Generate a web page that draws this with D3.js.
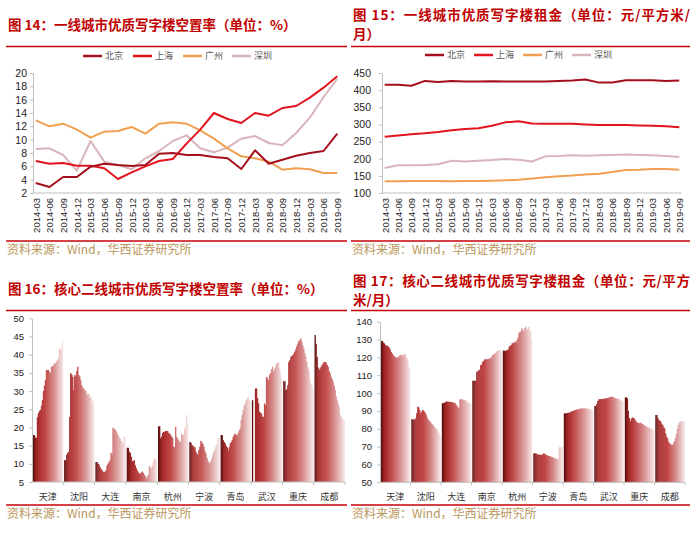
<!DOCTYPE html>
<html>
<head>
<meta charset="utf-8">
<script src="https://cdn.jsdelivr.net/npm/d3@7"></script>
<style>
	body{margin:0;background:#fff;}
	svg{display:block;font-family:"Liberation Sans",Arial,sans-serif;}
	.title{font-family:"Noto Sans CJK SC";font-weight:bold;fill:#c00000;font-size:13.5px;}
	.src{font-family:"Noto Sans CJK SC";fill:#b9975b;font-size:12px;}
	.legend text{font-family:"Noto Sans CJK SC";fill:#595959;font-size:9px;}
	.city{font-family:"Noto Sans CJK SC";fill:#333;font-size:9px;}
	.axis path,.axis line{stroke:#bfbfbf;}
	.axis text{fill:#222;}
</style>
</head>
<body>
<svg id="chart" width="700" height="535"></svg>
<script>

// ---- top charts: tier-1 cities, quarterly
var quarters = ["2014-03","2014-06","2014-09","2014-12","2015-03","2015-06","2015-09","2015-12",
	"2016-03","2016-06","2016-09","2016-12","2017-03","2017-06","2017-09","2017-12",
	"2018-03","2018-06","2018-09","2018-12","2019-03","2019-06","2019-09"];
var tier1 = ["北京","上海","广州","深圳"];
var tier1Colors = ["#a50f1c","#e3141d","#f0a050","#d9b5ba"];

// vacancy, %
var vacBJ = [3.5,2.9,4.4,4.4,5.95,6.4,6.2,6.05,6.2,7.9,8.0,7.7,7.7,7.4,7.2,5.6,8.4,6.4,7.0,7.6,8.0,8.3,10.9];
var vacSH = [6.8,6.4,6.5,6.1,6.1,5.7,4.1,5.1,6.0,6.8,7.1,9.4,11.5,14.0,13.1,12.5,14.0,13.6,14.75,15.05,16.3,17.8,19.5];
var vacGZ = [12.9,12.0,12.4,11.5,10.3,11.2,11.3,11.9,10.9,12.4,12.6,12.4,11.4,10.15,8.7,7.5,7.2,6.7,5.5,5.7,5.55,5.0,5.0];
var vacSZ = [8.6,8.7,7.7,5.35,9.8,6.7,6.2,5.55,7.2,8.3,9.8,10.65,8.7,8.1,8.8,10.15,10.55,9.5,9.15,11.0,13.3,16.4,19.1];
var vacTicks = [2,4,6,8,10,12,14,16,18,20];

// rent, yuan / m2 / month
var rentBJ = [416,416,413,427,424,427,425,425,426,425,425,425,425,427,428,431,422,422,429,429,429,427,428];
var rentSH = [264,268,271,274,278,283,287,289,296,306,309,303,302,302,302,300,298,298,298,297,296,295,292];
var rentGZ = [134,134,135,135,135,134,135,135,136,137,139,142,146,149,151,154,156,161,167,168,170,170,168];
var rentSZ = [173,181,181,182,184,194,192,194,196,199,197,192,207,208,210,209,210,211,212,211,210,208,205];
var rentTicks = [100,150,200,250,300,350,400,450];

// ---- bottom charts: core tier-2 cities, 30 readings each
var tier2 = ["天津","沈阳","大连","南京","杭州","宁波","青岛","武汉","重庆","成都"];

var vacTJ = [17.9,17.9,17.2,17.2,22.8,23.9,24.5,24.8,26,27.5,30,31.5,33,35.8,35.8,35.8,35.3,34.9,36.7,36.8,37.1,37.6,37.6,38.1,38.5,39,41.7,41.3,41.5,44];
var vacSY = [11,11,12.5,13,13.3,22.9,34.9,34.5,33.9,30.3,34.4,34,35.5,36.7,34.4,34,33,31.6,31,30.7,30.3,30,29.4,28.9,29.2,28,28.4,26.7,27.5,24.8];
var vacDL = [10.5,10.5,10,9.8,9.1,8.6,8.2,7.8,7.8,7.8,8.2,9.5,10,10.5,11,13,12.5,19.9,19.6,19.4,19,18.5,17.9,17.3,16.9,16.3,16,15.7,17.4,17.4];
var vacNJ = [14.4,14.4,13.3,13,11.9,10.7,10.8,11,9.6,8.8,8.2,7.6,7.4,7.3,7.6,7.9,7.5,7,6.6,6,6.5,7,9.4,9,8.7,9.5,10.5,11.4,11.3,11.2];
var vacHZ = [20.3,20.3,17,17.5,18.5,18.8,18.8,19,19,19,18.5,18.3,17.9,17.5,17.1,14.7,14.6,20.2,17.4,17,16.5,16,16.2,18.3,18,17.9,19.5,20.2,23.4,21];
var vacNB = [16,15.8,15.1,15,14.7,14.5,13.3,12.8,12.4,13.8,14.7,16.3,15.8,15.4,14.7,13.5,12.8,11.6,10.8,10.1,10.3,10.8,11.5,12.5,13.3,14,14.7,15.5,17,17];
var vacQD = [17.9,17.9,16.5,16,15.6,14.9,14.5,13.7,14.5,15.6,16,16.5,17.4,18,18.3,17.9,17.9,18.5,19.2,19.7,22,23.5,24.8,26,26.6,27.5,28,28.4,27.5,27];
var vacWH = [27.5,null,null,30.7,30.7,28,26.6,24.3,24,23.8,23,22.9,26.6,26.1,33.9,33.5,33,34.5,34.9,36,36.7,35.3,36,36.7,37.6,37.6,38,36.2,34.9,33];
var vacCQ = [32.7,32.7,30.3,30.5,31.6,38,38.5,39.4,39.6,39.9,40.3,40.8,41.5,42.3,43.1,43.8,44,44.5,43.6,42.5,41.7,40.4,39.5,38,36.5,35.8,33,32,31.2,30.3];
var vacCD = [45.4,43,39.4,36.5,35.8,36.2,36.7,37.2,37.6,38,38,37.8,37.2,36.7,35.5,34.9,33.9,33.3,32.6,31.5,30.3,28.5,27.5,26.5,25.7,23.4,22.9,22.5,22.2,22];
var vac2Ticks = [5,10,15,20,25,30,35,40,45,50];

var rentTJ = [129.2,129.2,128.3,127.9,127,126.6,126.5,126.2,125.5,124.5,123,122.3,121.2,120.8,120,120,120,119.9,120.5,121.2,121.4,121.3,120.8,121.5,121.9,120.4,119.5,118.5,114.8,113.9];
var rentSY = [85.3,85.3,85.3,84.9,86,88.7,92.4,92,90.5,88.7,89.6,90.5,90.3,89.6,88.7,87.5,85.9,84.9,84.5,83.9,83,82.5,82.1,81.1,80.5,80,79.3,78,77.2,76.5];
var rentDL = [94.3,94.3,94.5,95,95.2,95.2,95.2,95.1,95,95,94.8,94.8,94.5,94.3,93.5,92.7,91.8,91.8,96.5,96.5,96.5,96.3,96.2,96.1,95.7,95.3,94.8,94.5,94.3,93.9];
var rentNJ = [106.9,106.9,106.9,107,112,112,112.9,113,115.7,116,117.6,118,118.9,118.9,118.9,119,119,119.5,119.5,120,121.3,121.5,122,122.5,123.2,123.5,123.8,124.1,124.1,124];
var rentHZ = [123.8,123.8,123.5,124,124.1,124.5,126,126.5,127,127.9,128,128.3,128.8,128,129.7,131,133.5,134.4,134.4,136.3,135.5,134.4,136.5,137.2,135.3,136,137.2,134.4,135,130];
var rentNB = [66.2,66.2,66.2,66,65.3,65.6,65.6,65.3,65.3,65.8,66.2,66,65.5,65.3,65,64.8,64.7,64.5,64.2,64,63.8,63.6,63.4,63.2,63,62.9,69.6,69.6,69.6,69.6];
var rentQD = [88.6,88.6,88.7,88.8,89,89,89.2,89.6,89.8,90,90.3,90.5,90.6,90.8,90.9,91,91.2,91.4,91.4,91.4,91.4,91.4,91.4,91.3,91.2,91,90.9,90.7,90.4,90.1];
var rentWH = [92.7,92.7,93.9,95.5,96.5,96.5,96.6,96.7,96.7,96.8,96.9,97,97,97.2,97.4,97.6,97.8,98,97.9,97.6,97.4,97.2,97,96.9,96.7,96.5,96.2,95.9,95.6,95.4];
var rentCQ = [97.6,97.6,97,90,86,84,85.5,86.4,86,85.9,85,84,83.6,83.4,83,83.2,83.4,82.8,82.5,82.1,81.8,81.4,81.1,80.8,80.6,80.3,80.1,79.7,79.5,79.3];
var rentCD = [87.7,87.7,86,84.9,84.5,84,82.8,82.1,80.8,80.2,77.4,75.5,74.6,72.7,72,71.4,71,70.9,71.8,73,74.6,77,80,82.1,83.5,84,84.3,84.3,84.3,84];
var rent2Ticks = [50,60,70,80,90,100,110,120,130,140];

var svg = d3.select("#chart");

// bars inside one city go dark -> red -> pale pink
var barColor = d3.scaleLinear()
	.domain([0, 0.12, 0.4, 0.7, 1])
	.range(["#5e1111","#a52828","#c04545","#d68c8c","#f4e1e1"]);

function frame(x0, x1, titles, titleY, lineY, botY, stretch){
	titles.forEach(function(t, i){
		var tx = svg.append("text").attr("class","title")
			.attr("x", x0 + 2).attr("y", titleY[i]).text(t);
		if(stretch && i === 0) tx.attr("textLength", x1 - x0 - 2).attr("lengthAdjust","spacing");
	});
	svg.append("line").attr("x1", x0).attr("x2", x1).attr("y1", lineY).attr("y2", lineY)
		.attr("stroke","#c8000a").attr("stroke-width",1.6);
	svg.append("line").attr("x1", x0).attr("x2", x1).attr("y1", botY).attr("y2", botY)
		.attr("stroke","#c8000a").attr("stroke-width",1.6);
	svg.append("text").attr("class","src").attr("x", x0 + 1).attr("y", botY + 13)
		.text("资料来源：Wind，华西证券研究所");
}

function linePanel(o){
	var x = d3.scalePoint().domain(quarters).range([o.left, o.right]).padding(0.2);
	var y = d3.scaleLinear().domain(o.domain).range([o.bottom, o.top]);

	svg.append("g").attr("class","axis")
		.attr("transform","translate("+o.left+",0)")
		.call(d3.axisLeft(y).tickValues(o.ticks).tickSize(3).tickSizeOuter(0).tickPadding(o.pad))
		.selectAll("text").style("font-size","10.5px");

	var xa = svg.append("g").attr("class","axis")
		.attr("transform","translate(0,"+o.bottom+")")
		.call(d3.axisBottom(x).tickSize(0).tickSizeOuter(0));
	xa.select(".domain").attr("d","M"+o.left+",0H"+o.right);
	xa.selectAll("text")
		.attr("x",-5).attr("y",0).attr("dy","0.35em")
		.attr("transform","rotate(-90)")
		.style("text-anchor","end").style("font-size","9.5px");

	var line = d3.line()
		.x(function(d,i){ return x(quarters[i]); })
		.y(function(d){ return y(d); });

	// draw back to front so Beijing sits on top like the source
	o.series.slice().reverse().forEach(function(s, k){
		var idx = o.series.length - 1 - k;
		svg.append("path").datum(s)
			.attr("d", line)
			.attr("fill","none")
			.attr("stroke", tier1Colors[idx])
			.attr("stroke-width", 2)
			.attr("stroke-linejoin","round");
	});

	var lg = svg.append("g").attr("class","legend");
	tier1.forEach(function(name, i){
		var lx = o.legendX[i];
		lg.append("line").attr("x1", lx).attr("x2", lx + 19)
			.attr("y1", o.legendY).attr("y2", o.legendY)
			.attr("stroke", tier1Colors[i]).attr("stroke-width", 2.5);
		lg.append("text").attr("x", lx + 22).attr("y", o.legendY + 3.2).text(name);
	});
}

function barPanel(o){
	var x = d3.scaleBand().domain(tier2).range([o.left, o.right]);
	var y = d3.scaleLinear().domain(o.domain).range([o.bottom, o.top]);
	var n = o.groups[0].length;
	var inner = d3.scaleBand().domain(d3.range(n)).range([0.8, x.bandwidth() - 0.5]);

	o.groups.forEach(function(vals, ci){
		svg.append("g")
			.attr("transform","translate("+x(tier2[ci])+",0)")
			.selectAll("rect")
			.data(vals.map(function(v,i){ return {v:v, i:i}; }).filter(function(d){ return d.v !== null; }))
			.enter().append("rect")
			.attr("x", function(d){ return inner(d.i); })
			.attr("width", inner.bandwidth() + 0.35)
			.attr("y", function(d){ return y(d.v); })
			.attr("height", function(d){ return o.bottom - y(d.v); })
			.attr("fill", function(d){ return barColor(d.i / (n - 1)); });
	});

	svg.append("g").attr("class","axis")
		.attr("transform","translate("+o.left+",0)")
		.call(d3.axisLeft(y).tickValues(o.ticks).tickSize(3).tickSizeOuter(0).tickPadding(5))
		.selectAll("text").style("font-size","9.5px");

	var xa = svg.append("g").attr("class","axis")
		.attr("transform","translate(0,"+o.bottom+")");
	xa.append("line").attr("x1", o.left).attr("x2", o.right);
	xa.selectAll(".tk").data(tier2).enter().append("line")
		.attr("x1", function(d){ return x(d) + x.bandwidth(); })
		.attr("x2", function(d){ return x(d) + x.bandwidth(); })
		.attr("y1", 0).attr("y2", 3);

	svg.selectAll(null).data(tier2).enter().append("text")
		.attr("class","city")
		.attr("x", function(d){ return x(d) + x.bandwidth()/2; })
		.attr("y", o.bottom + 18)
		.attr("text-anchor","middle")
		.text(function(d){ return d; });
}

// ---- 图14
frame(6, 347, ["图 14：一线城市优质写字楼空置率（单位：%）"], [30], 46.5, 241, false);
linePanel({
	left:33, right:340, top:73, bottom:193, domain:[2,20], ticks:vacTicks, pad:3,
	series:[vacBJ, vacSH, vacGZ, vacSZ],
	legendX:[83,133,183,232], legendY:56
});

// ---- 图15
frame(351, 690, ["图 15：一线城市优质写字楼租金（单位：元/平方米/","月）"], [20, 38.5], 46.5, 241, true);
linePanel({
	left:382, right:682, top:73, bottom:193, domain:[100,450], ticks:rentTicks, pad:8,
	series:[rentBJ, rentSH, rentGZ, rentSZ],
	legendX:[425,474,523,572], legendY:55
});

// ---- 图16
frame(6, 347, ["图 16：核心二线城市优质写字楼空置率（单位：%）"], [294], 310.5, 505, false);
barPanel({
	left:32, right:345, top:318.3, bottom:482, domain:[5,50], ticks:vac2Ticks,
	groups:[vacTJ, vacSY, vacDL, vacNJ, vacHZ, vacNB, vacQD, vacWH, vacCQ, vacCD]
});

// ---- 图17
frame(351, 690, ["图 17：核心二线城市优质写字楼租金（单位：元/平方","米/月）"], [286, 305], 310.5, 505, true);
barPanel({
	left:380, right:685, top:321.7, bottom:482.3, domain:[50,140], ticks:rent2Ticks,
	groups:[rentTJ, rentSY, rentDL, rentNJ, rentHZ, rentNB, rentQD, rentWH, rentCQ, rentCD]
});

</script>
</body>
</html>
